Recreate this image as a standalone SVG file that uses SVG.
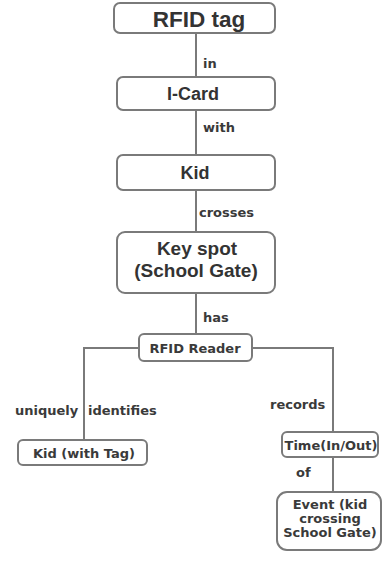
<svg xmlns="http://www.w3.org/2000/svg" width="383" height="563" viewBox="0 0 383 563">
<style>
.box{fill:#fff;stroke:#7a7a7a;stroke-width:2}
.ln{fill:none;stroke:#7a7a7a;stroke-width:2}
text{font-family:"Liberation Sans",Arial,sans-serif;font-weight:bold;fill:#333}
.t{text-anchor:middle}
.sm{font-family:"DejaVu Sans",Verdana,sans-serif;font-size:13px;fill:#3a3a3a}
</style>
<rect width="383" height="563" fill="#fff"/>
<g id="connectors">
<line class="ln" x1="196" y1="33" x2="196" y2="76"/>
<line class="ln" x1="196" y1="110" x2="196" y2="155"/>
<line class="ln" x1="196" y1="190" x2="196" y2="232"/>
<line class="ln" x1="196" y1="293" x2="196" y2="334"/>
<polyline class="ln" points="139,348 84,348 84,440"/>
<polyline class="ln" points="252,348 333,348 333,432"/>
<line class="ln" x1="333" y1="457" x2="333" y2="492"/>
<text class="sm" x="203" y="68" font-size="12">in</text>
<text class="sm" x="203" y="132" font-size="12">with</text>
<text class="sm" x="199" y="217" font-size="12">crosses</text>
<text class="sm" x="203" y="322" font-size="12">has</text>
<text class="sm" x="15" y="415">uniquely</text>
<text class="sm" x="88" y="415">identifies</text>
<text class="sm" x="270" y="409">records</text>
<text class="sm" x="296" y="477">of</text>
</g>
<g id="rfid-tag"><rect class="box" x="114" y="3" width="161" height="30" rx="6"/><text class="t" x="199" y="27" font-size="22.5">RFID tag</text></g>
<g id="i-card"><rect class="box" x="117" y="77" width="158" height="33" rx="6"/><text class="t" x="193" y="99.5" font-size="18">I-Card</text></g>
<g id="kid"><rect class="box" x="117" y="155" width="158" height="35" rx="6"/><text class="t" x="195" y="178.5" font-size="18">Kid</text></g>
<g id="key-spot"><rect class="box" x="117" y="232" width="158" height="61" rx="8"/><text class="t" x="197" y="255" font-size="19">Key spot</text><text class="t" x="196" y="277" font-size="19">(School Gate)</text></g>
<g id="rfid-reader"><rect class="box" x="139" y="334" width="113" height="27" rx="5"/><text class="t sm" x="195" y="352.5" font-size="13.5">RFID Reader</text></g>
<g id="kid-with-tag"><rect class="box" x="18" y="440" width="129" height="25" rx="5"/><text class="t sm" x="84" y="457.5" font-size="13.5">Kid (with Tag)</text></g>
<g id="time"><rect class="box" x="282" y="432" width="96" height="25" rx="5"/><text class="t sm" x="331" y="449.5" font-size="12.5">Time(In/Out)</text></g>
<g id="event"><rect class="box" x="277" y="492" width="104" height="58" rx="10"/><text class="t sm" x="330" y="509">Event (kid</text><text class="t sm" x="330" y="523">crossing</text><text class="t sm" x="330" y="537">School Gate)</text></g>
</svg>
